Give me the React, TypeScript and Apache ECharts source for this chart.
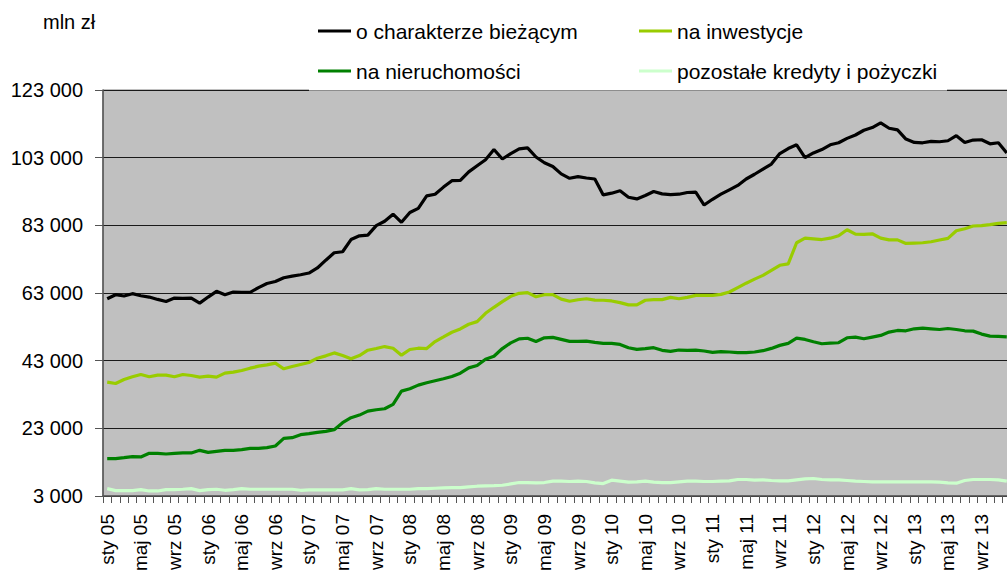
import React, { useEffect, useRef } from "react";
import * as echarts from "echarts";

const MONTHS = ["sty", "lut", "mar", "kwi", "maj", "cze", "lip", "sie", "wrz", "paź", "lis", "gru"];
const YEARS = ["05", "06", "07", "08", "09", "10", "11", "12", "13"];
const CATEGORIES = YEARS.flatMap((y) => MONTHS.map((m) => `${m} ${y}`));

const SERIES_NAMES = [
  "o charakterze bieżącym",
  "na inwestycje",
  "na nieruchomości",
  "pozostałe kredyty i pożyczki",
];

const BIEZACE = [
  61300, 62500, 62100, 62800, 62200, 61800, 61100, 60500, 61500, 61400, 61500, 60000,
  61800, 63500, 62500, 63300, 63200, 63200, 64600, 65800, 66400, 67500, 68000, 68400,
  68900, 70400, 72700, 74900, 75200, 78800, 79900, 80100, 82900, 84200, 86300, 83900,
  86800, 88000, 91700, 92200, 94300, 96200, 96300, 98800, 100600, 102400, 105400, 102600,
  104200, 105600, 105900, 103200, 101500, 100400, 98200, 96900, 97400, 97000, 96700, 92000,
  92500, 93200, 91300, 90800, 91800, 93000, 92300, 92100, 92200, 92700, 92800, 89000,
  90700, 92200, 93500, 94800, 96700, 98100, 99600, 101100, 104200, 105700, 106800, 103000,
  104400, 105400, 106800, 107400, 108700, 109700, 111100, 111900, 113300, 111700, 111200, 108500,
  107500, 107400, 107800, 107700, 108000, 109500, 107500, 108200, 108300, 107100, 107400, 104400,
];

const INWESTYCJE = [
  36650, 36260, 37440, 38230, 38920, 38230, 38720, 38720, 38230, 38920, 38620, 38130,
  38420, 38130, 39310, 39600, 40100, 40780, 41370, 41770, 42260, 40590, 41280, 41870,
  42450, 43730, 44420, 45300, 44520, 43540, 44520, 46090, 46580, 47170, 46680, 44620,
  46290, 46680, 46580, 48650, 50020, 51400, 52380, 53760, 54540, 57000, 58770, 60440,
  62020, 62900, 63100, 61900, 62500, 62500, 61200, 60550, 61000, 61300, 60900, 60850,
  60650, 60150, 59500, 59500, 60850, 61050, 61050, 61700, 61300, 61700, 62300, 62300,
  62300, 62600, 63300, 64600, 65900, 67100, 68200, 69700, 71200, 71600, 77850, 79200,
  79000, 78800, 79200, 79900, 81700, 80400, 80300, 80500, 79200, 78700, 78700, 77650,
  77750, 77850, 78150, 78650, 79150, 81400, 82000, 82800, 82900, 83200, 83600, 83800,
];

const NIERUCHOMOSCI = [
  14050, 14050, 14340, 14640, 14540, 15620, 15620, 15420, 15620, 15720, 15720, 16500,
  15910, 16210, 16500, 16500, 16700, 17090, 17090, 17290, 17780, 20040, 20240, 21120,
  21420, 21810, 22110, 22600, 24660, 26140, 26920, 28100, 28500, 28790, 30070, 34000,
  34690, 35770, 36460, 37050, 37640, 38330, 39310, 40880, 41570, 43440, 44320, 46580,
  48260, 49430, 49630, 48650, 49750, 49870, 49280, 48690, 48690, 48790, 48400, 48100,
  48100, 47810, 46830, 46340, 46540, 46830, 46050, 45750, 46140, 46050, 46140, 45850,
  45460, 45650, 45560, 45360, 45360, 45560, 45950, 46630, 47520, 48100, 49670, 49280,
  48590, 48000, 48200, 48300, 49770, 49970, 49480, 49970, 50460, 51440, 51930, 51830,
  52420, 52610, 52420, 52220, 52510, 52220, 51830, 51730, 50850, 50260, 50160, 50060,
];

const POZOSTALE = [
  5190, 4590, 4590, 4590, 4890, 4490, 4490, 4890, 4890, 4990, 5190, 4590,
  4890, 4990, 4690, 4890, 5190, 4990, 4990, 4990, 4990, 4990, 4990, 4690,
  4790, 4790, 4790, 4790, 4790, 5190, 4790, 4890, 5190, 4990, 4990, 4990,
  4990, 5190, 5190, 5290, 5390, 5490, 5490, 5690, 5890, 5990, 6080, 6180,
  6580, 6980, 6980, 6880, 6980, 7380, 7380, 7280, 7380, 7280, 6880, 6680,
  7680, 7380, 7080, 7180, 7380, 7080, 6980, 6980, 7180, 7380, 7380, 7280,
  7280, 7380, 7480, 7880, 7880, 7680, 7780, 7580, 7480, 7480, 7780, 8080,
  8170, 7880, 7780, 7780, 7580, 7380, 7280, 7180, 7180, 7180, 7180, 7180,
  7180, 7180, 7180, 7080, 6880, 6780, 7580, 7880, 7880, 7880, 7780, 7380,
];

const SERIES_DATA = [BIEZACE, INWESTYCJE, NIERUCHOMOSCI, POZOSTALE];
const COLORS = ["#000000", "#99CC00", "#008000", "#CCFFCC"];

const Y_MIN = 3000;
const Y_MAX = 123000;
const Y_STEP = 20000;

const FONT = "'Liberation Sans', Arial, sans-serif";

const fmt = (v: number) => String(v).replace(/\B(?=(\d{3})+(?!\d))/g, " ");

export default function App() {
  const ref = useRef<HTMLDivElement>(null);

  useEffect(() => {
    if (!ref.current) return;
    const chart = echarts.init(ref.current, null, { renderer: "svg" });

    const legendPos = [
      { left: 318, top: 19 },
      { left: 639, top: 19 },
      { left: 318, top: 59 },
      { left: 639, top: 59 },
    ];

    chart.setOption({
      animation: false,
      backgroundColor: "#ffffff",
      textStyle: { fontFamily: FONT },
      grid: {
        left: 103,
        top: 90,
        bottom: 78,
        right: -4,
        outerBoundsMode: "none",
        containLabel: false,
        show: true,
        backgroundColor: "#C0C0C0",
        borderColor: "#808080",
        borderWidth: 1,
      },
      legend: SERIES_NAMES.map((name, i) => ({
        data: [name],
        left: legendPos[i].left,
        top: legendPos[i].top,
        padding: 0,
        icon: "rect",
        itemWidth: 33,
        itemHeight: 3,
        itemGap: 0,
        selectedMode: false,
        textStyle: {
          fontFamily: FONT,
          fontSize: 21,
          color: "#000",
          lineHeight: 24,
          padding: [0, 0, 0, 0],
        },
        z: 10,
      })),
      graphic: [
        {
          type: "rect",
          shape: { x: 309, y: 0, width: 638, height: 90.5 },
          style: { fill: "#ffffff" },
          z: 5,
        },
        {
          type: "text",
          x: 43,
          y: 22,
          style: {
            text: "mln zł",
            fontFamily: FONT,
            fontSize: 20,
            fill: "#000",
            verticalAlign: "middle",
          },
        },
      ],
      xAxis: {
        type: "category",
        data: CATEGORIES,
        boundaryGap: true,
        axisLine: { show: true, lineStyle: { color: "#555555", width: 1.5 } },
        axisTick: {
          show: true,
          interval: 0,
          length: 7,
          lineStyle: { color: "#555555", width: 1 },
        },
        axisLabel: {
          interval: 3,
          rotate: 90,
          margin: 18,
          fontFamily: FONT,
          fontSize: 19,
          color: "#000",
          hideOverlap: false,
        },
        splitLine: { show: false },
      },
      yAxis: {
        type: "value",
        min: Y_MIN,
        max: Y_MAX,
        interval: Y_STEP,
        axisLine: { show: true, lineStyle: { color: "#555555", width: 1.5 } },
        axisTick: { show: true, length: 8, lineStyle: { color: "#555555" } },
        axisLabel: {
          margin: 20,
          fontFamily: FONT,
          fontSize: 20,
          color: "#000",
          formatter: (v: number) => fmt(v),
        },
        splitLine: { show: true, lineStyle: { color: "#1a1a1a", width: 1 } },
      },
      series: SERIES_NAMES.map((name, i) => ({
        name,
        type: "line",
        data: SERIES_DATA[i],
        symbol: "none",
        showSymbol: false,
        smooth: false,
        lineStyle: { color: COLORS[i], width: 3.2 },
        itemStyle: { color: COLORS[i] },
        z: 4 - i,
      })),
    });

    return () => chart.dispose();
  }, []);

  return (
    <div
      style={{ position: "fixed", left: 0, top: 0, width: 1007, height: 574, overflow: "hidden" }}
    >
      <div ref={ref} style={{ width: 1007, height: 574 }} />
    </div>
  );
}
